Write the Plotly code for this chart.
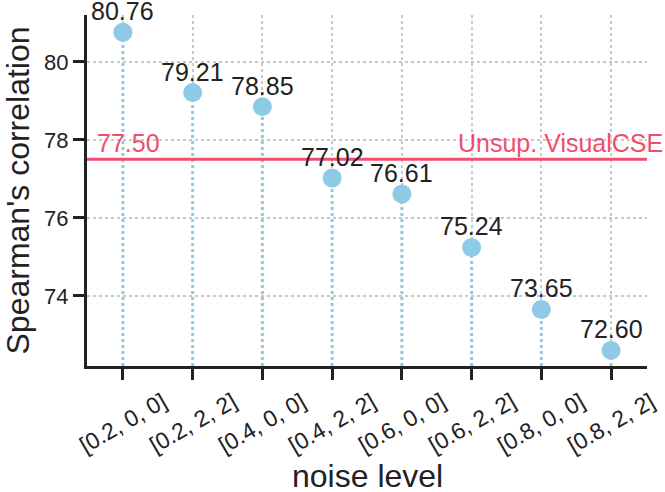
import plotly.graph_objects as go

categories = ["[0.2, 0, 0]", "[0.2, 2, 2]", "[0.4, 0, 0]", "[0.4, 2, 2]",
              "[0.6, 0, 0]", "[0.6, 2, 2]", "[0.8, 0, 0]", "[0.8, 2, 2]"]
scores = [80.76, 79.21, 78.85, 77.02, 76.61, 75.24, 73.65, 72.60]
baseline_value = 77.50
baseline_name = "Unsup. VisualCSE"
y_ticks = [74, 76, 78, 80]

BLUE = "#8ecae6"
RED = "#f24d6c"
FONT = "Liberation Sans, Arial, sans-serif"
Y_MIN, Y_MAX = 72.2, 81.2
xs = list(range(len(categories)))

fig = go.Figure()

# dotted stems from each point down to the bottom of the axis
for i, v in zip(xs, scores):
    fig.add_trace(go.Scatter(x=[i, i], y=[Y_MIN, v], mode="lines",
                             line=dict(color=BLUE, width=3, dash="dot"),
                             hoverinfo="skip", showlegend=False))

# baseline
fig.add_trace(go.Scatter(x=[-0.515, 7.515], y=[baseline_value, baseline_value],
                         mode="lines", line=dict(color=RED, width=3),
                         hoverinfo="skip", showlegend=False))

# points
fig.add_trace(go.Scatter(x=xs, y=scores, mode="markers",
                         marker=dict(color=BLUE, size=19),
                         showlegend=False))

# value labels just above the points
for i, v in zip(xs, scores):
    fig.add_annotation(x=i, xref="x", y=v, yref="y", yanchor="bottom", yshift=5,
                       xanchor="center", text=f"{v:.2f}", showarrow=False,
                       font=dict(size=25, color="#222222", family=FONT))

# baseline labels
fig.add_annotation(x=0, xref="paper", xshift=8, xanchor="left",
                   y=baseline_value, yref="y", yanchor="bottom", yshift=0,
                   text=f"{baseline_value:.2f}", showarrow=False,
                   font=dict(size=25, color=RED, family=FONT))
fig.add_annotation(x=1, xref="paper", xshift=18, xanchor="right",
                   y=baseline_value, yref="y", yanchor="bottom", yshift=0,
                   text=baseline_name, showarrow=False,
                   font=dict(size=25, color=RED, family=FONT))

# rotated category labels centred on ticks
for i, c in zip(xs, categories):
    fig.add_annotation(x=i, xref="x", y=0, yref="paper", yshift=-57,
                       xanchor="center", yanchor="middle", textangle=-30,
                       text=c, showarrow=False,
                       font=dict(size=23, color="#222222", family=FONT))

# axis titles
fig.add_annotation(x=0.5, xref="paper", y=0, yref="paper", yshift=-110,
                   xanchor="center", yanchor="middle", text="noise level",
                   showarrow=False, font=dict(size=32, color="#222222", family=FONT))
fig.add_annotation(x=0, xref="paper", xshift=-70, y=0.5, yref="paper",
                   xanchor="center", yanchor="middle", textangle=-90,
                   text="Spearman's correlation", showarrow=False,
                   font=dict(size=32, color="#222222", family=FONT))

fig.update_xaxes(range=[-0.515, 7.515], tickvals=xs, ticktext=[""] * len(xs),
                 showline=True, linecolor="#222222", linewidth=3,
                 ticks="outside", ticklen=11, tickwidth=2.5, tickcolor="#222222",
                 showgrid=True, gridcolor="#c8c8c8", gridwidth=1.5, griddash="dot",
                 zeroline=False, fixedrange=True)
fig.update_yaxes(range=[Y_MIN, Y_MAX], tickvals=y_ticks,
                 showline=True, linecolor="#222222", linewidth=3,
                 ticks="outside", ticklen=11, tickwidth=2.5, tickcolor="#222222",
                 tickfont=dict(size=22, color="#222222", family=FONT),
                 showgrid=True, gridcolor="#c8c8c8", gridwidth=1.5, griddash="dot",
                 zeroline=False, fixedrange=True)

fig.update_layout(width=665, height=492,
                  margin=dict(l=87, r=18, t=15, b=126),
                  plot_bgcolor="white", paper_bgcolor="white",
                  font=dict(family=FONT, color="#222222"),
                  showlegend=False)

fig.write_html("out.html", config={"displayModeBar": False},
               post_script="document.body.style.margin='0';document.body.style.overflow='hidden';")
